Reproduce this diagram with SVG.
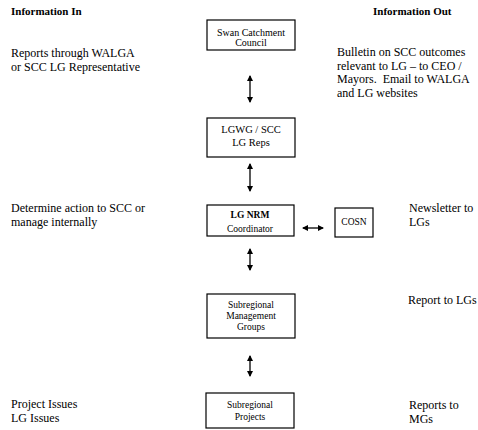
<svg xmlns="http://www.w3.org/2000/svg" width="478" height="430" viewBox="0 0 478 430">
<defs>
<marker id="ah" markerWidth="6" markerHeight="6" refX="5" refY="3" orient="auto-start-reverse" markerUnits="userSpaceOnUse">
<path d="M0,0 L6,3 L0,6 Z" fill="#000"/>
</marker>
<style>
text{font-family:"Liberation Serif","Times New Roman",serif;fill:#000}
.h{font-size:11px;font-weight:bold}
.t{font-size:12px}
.n{font-size:9.5px;text-anchor:middle}
.box{fill:#fff;stroke:#000;stroke-width:1.2}
.c{stroke:#000;stroke-width:1.3;fill:none;marker-start:url(#ah);marker-end:url(#ah)}
</style>
</defs>
<rect width="478" height="430" fill="#fff"/>
<text class="h" x="11" y="15">Information In</text>
<text class="h" x="373" y="15">Information Out</text>
<g id="texts-in">
<text class="t" x="11" y="57">Reports through WALGA</text>
<text class="t" x="11" y="71">or SCC LG Representative</text>
<text class="t" x="11" y="212">Determine action to SCC or</text>
<text class="t" x="11" y="226">manage internally</text>
<text class="t" x="11" y="408">Project Issues</text>
<text class="t" x="11" y="422">LG Issues</text>
</g>
<g id="texts-out">
<text class="t" x="337" y="56">Bulletin on SCC outcomes</text>
<text class="t" x="337" y="70">relevant to LG – to CEO /</text>
<text class="t" x="337" y="83" xml:space="preserve">Mayors.  Email to WALGA</text>
<text class="t" x="337" y="97">and LG websites</text>
<text class="t" x="409" y="212">Newsletter to</text>
<text class="t" x="409" y="226">LGs</text>
<text class="t" x="408" y="304">Report to LGs</text>
<text class="t" x="409" y="409">Reports to</text>
<text class="t" x="409" y="423">MGs</text>
</g>
<g id="connectors">
<line class="c" x1="250" y1="76" x2="250" y2="102"/>
<line class="c" x1="250" y1="164" x2="250" y2="191"/>
<line class="c" x1="250" y1="249" x2="250" y2="270"/>
<line class="c" x1="250" y1="356" x2="250" y2="376"/>
<line class="c" x1="303" y1="228" x2="323" y2="228"/>
</g>
<g id="scc">
<rect class="box" x="207" y="20" width="88" height="30"/>
<text class="n" x="251" y="36" style="font-size:10px">Swan Catchment</text>
<text class="n" x="251" y="46" style="font-size:10px">Council</text>
</g>
<g id="lgwg">
<rect class="box" x="207" y="118" width="88" height="39"/>
<text class="n" x="251" y="133" style="font-size:10.5px">LGWG / SCC</text>
<text class="n" x="251" y="146" style="font-size:10.5px">LG Reps</text>
</g>
<g id="lgnrm">
<rect class="box" x="207" y="205" width="87" height="31"/>
<text class="n" x="250" y="218" font-weight="bold">LG NRM</text>
<text class="n" x="250" y="232">Coordinator</text>
</g>
<g id="cosn">
<rect class="box" x="335" y="208" width="38" height="29"/>
<text class="n" x="354" y="225">COSN</text>
</g>
<g id="smg">
<rect class="box" x="207" y="294" width="88" height="44"/>
<text class="n" x="251" y="308">Subregional</text>
<text class="n" x="251" y="319">Management</text>
<text class="n" x="251" y="330">Groups</text>
</g>
<g id="sp">
<rect class="box" x="206" y="393" width="88" height="35"/>
<text class="n" x="250" y="408">Subregional</text>
<text class="n" x="250" y="420">Projects</text>
</g>
</svg>
